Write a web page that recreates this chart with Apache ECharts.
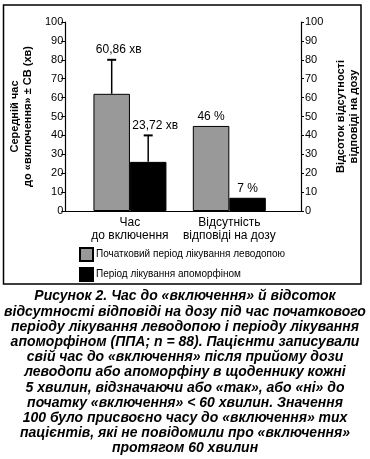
<!DOCTYPE html>
<html><head><meta charset="utf-8">
<script src="https://cdn.jsdelivr.net/npm/echarts@6/dist/echarts.min.js"></script>
<style>html,body{margin:0;padding:0;background:#fff}#c{width:370px;height:459px}</style>
</head><body><div id="c"></div>
<script>
const categories = ['Час\nдо включення', 'Відсутність\nвідповіді на дозу'];
const seriesNames = ['Початковий період лікування леводопою', 'Період лікування апоморфіном'];
const levodopaValues = [62, 45];
const apomorphineValues = [26, 7];
const levodopaErrTop = [80, null];
const apomorphineErrTop = [40, null];
const levodopaLabels = ['60,86 хв', '46 %'];
const apomorphineLabels = ['23,72 хв', '7 %'];
const leftAxisName = 'Середній час\nдо «включення» ± СВ (хв)';
const rightAxisName = 'Відсоток відсутності\nвідповіді на дозу';
const captionLines = [
  'Рисунок 2. Час до «включення» й відсоток',
  'відсутності відповіді на дозу під час початкового',
  'періоду лікування леводопою і періоду лікування',
  'апоморфіном (ППА; n = 88). Пацієнти записували',
  'свій час до «включення» після прийому дози',
  'леводопи або апоморфіну в щоденнику кожні',
  '5 хвилин, відзначаючи або «так», або «ні» до',
  'початку «включення» < 60 хвилин. Значення',
  '100 було присвоєно часу до «включення» тих',
  'пацієнтів, які не повідомили про «включення»',
  'протягом 60 хвилин'
];

const FONT = '"Liberation Sans", Arial, sans-serif';
const BAR_W = 36.5;
const GRAY = '#999999';

function errSeries(values, tops, labels, side) {
  return {
    type: 'custom', xAxisIndex: 0, yAxisIndex: 0, silent: true, z: 10,
    data: values.map((v, i) => [i, v, tops[i] == null ? v : tops[i], tops[i] == null ? 0 : 1]),
    renderItem(params, api) {
      const i = api.value(0), v = api.value(1), t = api.value(2), hasErr = api.value(3);
      const base = api.coord([i, v]);
      const top = api.coord([i, t]);
      const x = base[0] + side * BAR_W / 2;
      const children = [];
      if (hasErr) {
        children.push({type: 'line', shape: {x1: x, y1: base[1], x2: x, y2: top[1]}, style: {stroke: '#000', lineWidth: 1.5}});
        children.push({type: 'line', shape: {x1: x - 4.5, y1: top[1], x2: x + 4.5, y2: top[1]}, style: {stroke: '#000', lineWidth: 2}});
      }
      children.push({type: 'text', style: {text: labels[params.dataIndex], x: x + (hasErr ? 7 : 0), y: top[1] - (hasErr ? 4 : 3), align: 'center', verticalAlign: 'bottom', font: '12px ' + FONT, fill: '#000'}});
      return {type: 'group', children};
    }
  };
}

const chart = echarts.init(document.getElementById('c'), null, {renderer: 'canvas'});
chart.setOption({
  animation: false,
  backgroundColor: '#fff',
  textStyle: {fontFamily: FONT, color: '#000'},
  title: {
    text: captionLines.join('\n'), left: 'center', top: 289, padding: 0,
    textStyle: {fontFamily: FONT, fontSize: 14, fontWeight: 'bold', fontStyle: 'italic', lineHeight: 15.2, color: '#000'}
  },
  graphic: [{type: 'rect', shape: {x: 3.5, y: 5, width: 357.5, height: 279}, style: {fill: 'none', stroke: '#000', lineWidth: 1.5}, silent: true}],
  legend: {
    data: seriesNames, orient: 'vertical', left: 79, top: 247, padding: 0, itemGap: 5,
    itemWidth: 13, itemHeight: 13, icon: 'rect',
    textStyle: {fontFamily: FONT, fontSize: 10, color: '#000', padding: [0, 0, 0, -2]}
  },
  grid: [
    {left: 78, right: 91, top: 22, bottom: 248},
    {left: 63, right: 69, top: 22, bottom: 248}
  ],
  xAxis: [
    {type: 'category', gridIndex: 0, data: categories,
     axisLine: {show: false}, axisTick: {show: false},
     axisLabel: {fontFamily: FONT, fontSize: 12, lineHeight: 13, color: '#000', margin: 5, interval: 0}},
    {type: 'value', gridIndex: 1, min: 0, max: 1, axisLine: {show: true, lineStyle: {color: '#000', width: 1.2}},
     axisTick: {show: false}, axisLabel: {show: false}, splitLine: {show: false}}
  ],
  yAxis: [
    {type: 'value', gridIndex: 0, position: 'left', offset: 15, min: 0, max: 100, interval: 10,
     name: leftAxisName, nameLocation: 'middle', nameGap: 23,
     nameTextStyle: {fontFamily: FONT, fontSize: 11, fontWeight: 'bold', lineHeight: 13, color: '#000'},
     axisLine: {show: true, lineStyle: {color: '#000', width: 1.2}},
     axisTick: {show: true, length: 4, lineStyle: {color: '#000'}},
     axisLabel: {fontFamily: FONT, fontSize: 11, color: '#000', margin: 2},
     splitLine: {show: false}},
    {type: 'value', gridIndex: 0, position: 'right', offset: 22, min: 0, max: 100, interval: 10,
     name: rightAxisName, nameLocation: 'middle', nameGap: 29, nameRotate: 90,
     nameTextStyle: {fontFamily: FONT, fontSize: 11, fontWeight: 'bold', lineHeight: 13, color: '#000'},
     axisLine: {show: true, lineStyle: {color: '#000', width: 1.2}},
     axisTick: {show: true, length: 3, lineStyle: {color: '#000'}},
     axisLabel: {fontFamily: FONT, fontSize: 11, color: '#000', margin: 4},
     splitLine: {show: false}},
    {type: 'value', gridIndex: 1, show: false, min: 0, max: 1}
  ],
  series: [
    {name: seriesNames[0], type: 'bar', xAxisIndex: 0, yAxisIndex: 0, data: levodopaValues,
     barWidth: BAR_W, barGap: '0%', itemStyle: {color: GRAY, borderColor: '#000', borderWidth: 1}},
    {name: seriesNames[1], type: 'bar', xAxisIndex: 0, yAxisIndex: 0, data: apomorphineValues,
     barWidth: BAR_W, barGap: '0%', itemStyle: {color: '#000', borderColor: '#000', borderWidth: 1}},
    errSeries(levodopaValues, levodopaErrTop, levodopaLabels, -1),
    errSeries(apomorphineValues, apomorphineErrTop, apomorphineLabels, 1)
  ]
});
</script></body></html>
